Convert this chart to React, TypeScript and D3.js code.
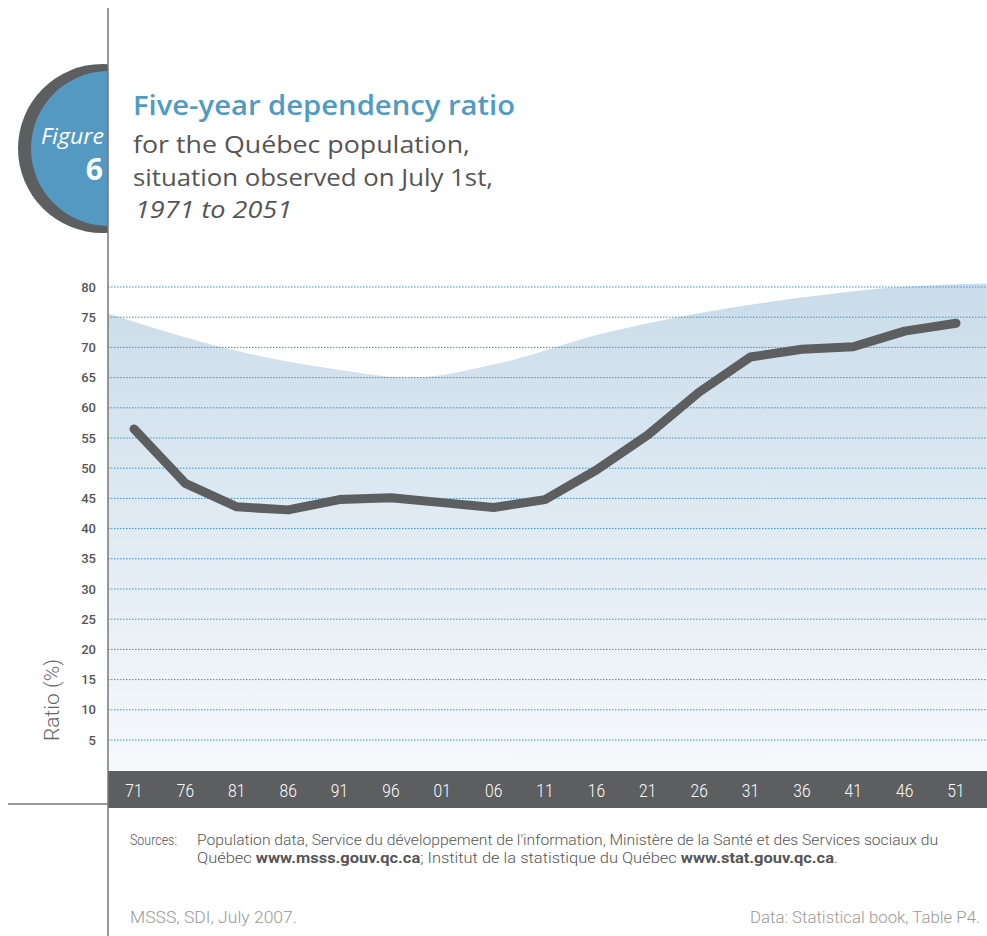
import React from "react";
import * as d3 from "d3";

const years = [1971, 1976, 1981, 1986, 1991, 1996, 2001, 2006, 2011, 2016, 2021, 2026, 2031, 2036, 2041, 2046, 2051];
const yearLabels = ["71", "76", "81", "86", "91", "96", "01", "06", "11", "16", "21", "26", "31", "36", "41", "46", "51"];
const ratio = [56.5, 47.5, 43.6, 43.1, 44.8, 45.1, 44.3, 43.5, 44.8, 49.7, 55.5, 62.6, 68.4, 69.7, 70.1, 72.7, 74.0];
const yTicks = [5, 10, 15, 20, 25, 30, 35, 40, 45, 50, 55, 60, 65, 70, 75, 80];
// decorative backdrop outline (years, values)
const backdropYears = [1968.5, 1980.3, 1990.1, 1997.9, 2006.6, 2016.4, 2026.1, 2035.8, 2045.5, 2054];
const backdropValues = [75.6, 69.7, 66.5, 65.0, 67.4, 72.2, 75.7, 78.2, 80.0, 80.6];

const W = 987;
const H = 936;
const axisX = 108;
const plotRight = 987;

export default function App() {
  const x = d3.scaleLinear().domain([1971, 2051]).range([134, 956]);
  const y = d3.scaleLinear().domain([0, 80]).range([770.2, 287]);

  const line = d3
    .line<number>()
    .x((_, i) => x(years[i]))
    .y((d) => y(d))
    .curve(d3.curveLinear);

  const area = d3
    .area<number>()
    .x((_, i) => x(backdropYears[i]))
    .y0(y(0))
    .y1((d) => y(d))
    .curve(d3.curveMonotoneX);

  const gray = "#5d5e60";
  const fontMain = "'Open Sans', 'Noto Sans', sans-serif";
  const fontNarrow = "Roboto, sans-serif";

  return (
    <svg
      width={W}
      height={H}
      style={{ position: "absolute", left: 0, top: 0, background: "#fff" }}
    >
      <defs>
        <linearGradient id="bg" x1="0" y1={y(80.6)} x2="0" y2={y(0)} gradientUnits="userSpaceOnUse">
          <stop offset="0" stopColor="#cadcea" />
          <stop offset="1" stopColor="#f6f9fc" />
        </linearGradient>
        <clipPath id="leftclip">
          <rect x={0} y={0} width={axisX} height={300} />
        </clipPath>
        <clipPath id="plotclip">
          <rect x={axisX} y={0} width={plotRight - axisX} height={H} />
        </clipPath>
      </defs>

      {/* Figure badge */}
      <g clipPath="url(#leftclip)">
        <circle cx={102.5} cy={148.5} r={84.5} fill={gray} />
        <circle cx={108.5} cy={148.5} r={77.5} fill="#5399c2" />
      </g>
      <text x={104} y={144} textAnchor="end" fill="#fff" fontFamily={fontMain} fontStyle="italic" fontSize={21} textLength={63} lengthAdjust="spacingAndGlyphs">
        Figure
      </text>
      <text x={103} y={180} textAnchor="end" fill="#fff" fontFamily={fontMain} fontWeight={700} fontSize={30}>
        6
      </text>

      {/* Title */}
      <text x={133} y={115} fill="#4f9bc4" fontFamily={fontMain} fontWeight={600} fontSize={27} textLength={382} lengthAdjust="spacingAndGlyphs">
        Five-year dependency ratio
      </text>
      <text x={133} y={153} fill="#555" fontFamily={fontMain} fontSize={24.5} textLength={337} lengthAdjust="spacingAndGlyphs">
        for the Québec population,
      </text>
      <text x={133} y={186} fill="#555" fontFamily={fontMain} fontSize={24.5} textLength={360} lengthAdjust="spacingAndGlyphs">
        situation observed on July 1st,
      </text>
      <text x={135} y={218} fill="#555" fontFamily={fontMain} fontStyle="italic" fontSize={24.5} textLength={157} lengthAdjust="spacingAndGlyphs">
        1971 to 2051
      </text>

      {/* backdrop */}
      <path d={area(backdropValues) || ""} fill="url(#bg)" clipPath="url(#plotclip)" />

      {/* gridlines */}
      {yTicks.map((t) => (
        <g key={t}>
          <line
            x1={axisX}
            x2={plotRight}
            y1={y(t)}
            y2={y(t)}
            stroke="#3a90c4"
            strokeWidth={1}
            strokeDasharray="1.5,1.5"
          />
          <text
            x={96}
            y={y(t)}
            dy="0.35em"
            textAnchor="end"
            fill="#555"
            fontFamily="Roboto, sans-serif"
            fontWeight={500}
            fontSize={13}
          >
            {t}
          </text>
        </g>
      ))}

      {/* y axis title */}
      <text
        transform={`translate(59,700) rotate(-90)`}
        textAnchor="middle"
        fill="#666"
        fontFamily="Roboto, sans-serif"
        fontWeight={300}
        fontSize={21}
      >
        Ratio (%)
      </text>

      {/* data line */}
      <path
        d={line(ratio) || ""}
        fill="none"
        stroke={gray}
        strokeWidth={9}
        strokeLinecap="round"
        strokeLinejoin="round"
      />

      {/* category band */}
      <rect x={axisX} y={771} width={plotRight - axisX} height={37} fill={gray} />
      {years.map((yr, i) => (
        <text
          key={yr}
          transform={`translate(${x(yr)},797) scale(0.82,1)`}
          textAnchor="middle"
          fill="#fff"
          fontFamily={fontNarrow}
          fontWeight={300}
          fontSize={19}
        >
          {yearLabels[i]}
        </text>
      ))}

      {/* frame lines */}
      <line x1={axisX} x2={axisX} y1={8} y2={H} stroke="#777" strokeWidth={1.5} />
      <line x1={8} x2={axisX} y1={804} y2={804} stroke="#777" strokeWidth={1.5} />

      {/* sources */}
      <text x={130} y={845} fill="#555" fontFamily={fontNarrow} fontWeight={300} fontSize={14} textLength={47} lengthAdjust="spacingAndGlyphs">
        Sources:
      </text>
      <text x={197} y={845} fill="#555" fontFamily={fontNarrow} fontWeight={300} fontSize={14} textLength={741} lengthAdjust="spacingAndGlyphs">
        Population data, Service du développement de l'information, Ministère de la Santé et des Services sociaux du
      </text>
      <text x={197} y={863} fill="#555" fontFamily={fontNarrow} fontWeight={300} fontSize={14} textLength={641} lengthAdjust="spacingAndGlyphs">
        Québec <tspan fontWeight={700}>www.msss.gouv.qc.ca</tspan>; Institut de la statistique du Québec{" "}
        <tspan fontWeight={700}>www.stat.gouv.qc.ca</tspan>.
      </text>

      {/* footer */}
      <text x={130} y={923} fill="#999" fontFamily={fontNarrow} fontWeight={300} fontSize={16} textLength={167} lengthAdjust="spacingAndGlyphs">
        MSSS, SDI, July 2007.
      </text>
      <text x={750} y={923} fill="#999" fontFamily={fontNarrow} fontWeight={300} fontSize={16} textLength={230} lengthAdjust="spacingAndGlyphs">
        Data: Statistical book, Table P4.
      </text>
    </svg>
  );
}
